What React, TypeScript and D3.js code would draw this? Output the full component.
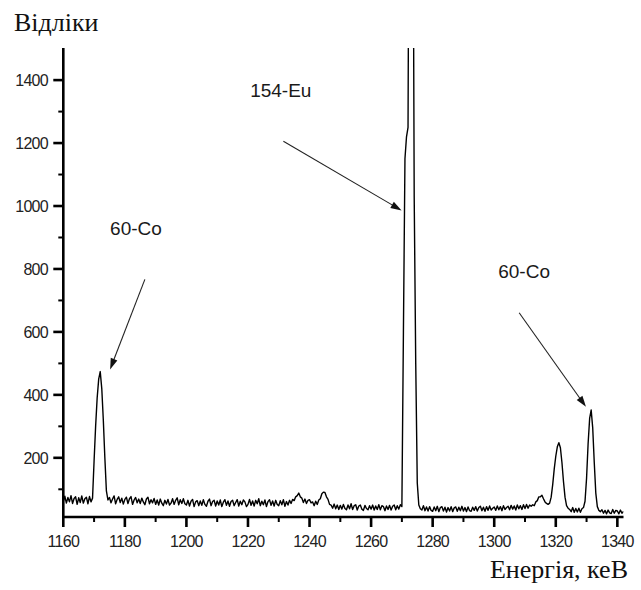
import React from 'react';
import * as d3 from 'd3';

const W = 641;
const H = 590;

// spectrum: counts per 0.5 keV channel, 1160 .. 1342 keV
const channelStart = 1160;
const channelStep = 0.5;
const counts = [
  62, 78, 56, 74, 60, 80, 55, 71, 76, 52,
  73, 58, 79, 56, 70, 75, 54, 77, 60, 72,
  190, 300, 390, 450, 474, 420, 320, 200, 95, 66,
  74, 57, 69, 79, 54, 68, 76, 58, 72, 53,
  68, 75, 55, 70, 77, 52, 66, 74, 57, 69,
  55, 72, 60, 51, 69, 75, 54, 67, 57, 71,
  52, 66, 50, 69, 56, 48, 65, 53, 68, 50,
  56, 70, 52, 65, 73, 51, 67, 55, 70, 54,
  50, 65, 47, 62, 68, 45, 60, 64, 48, 63,
  49, 67, 52, 46, 62, 69, 48, 61, 65, 47,
  63, 50, 66, 45, 59, 67, 49, 63, 46, 61,
  65, 48, 58, 67, 47, 62, 51, 66, 60, 45,
  52, 68, 49, 63, 47, 65, 54, 70, 48, 62,
  51, 66, 45, 61, 67, 49, 63, 47, 65, 52,
  48, 64, 51, 67, 46, 61, 50, 65, 55, 68,
  64, 76, 80, 88, 76, 72, 58, 69, 55, 65,
  67, 57, 60, 48, 62, 52, 66, 70, 86, 91,
  90, 76, 68, 52, 50, 40, 53, 38, 50, 36,
  49, 37, 52, 39, 35, 50, 38, 54, 36, 48,
  51, 34, 47, 50, 37, 33, 49, 39, 35, 48,
  37, 50, 34, 47, 36, 51, 35, 48, 45, 32,
  47, 36, 49, 34, 46, 50, 35, 48, 37, 51,
  45, 600, 1150, 1220, 1250, 2600, 3200, 2400, 1030, 500,
  120, 50, 38, 34, 48, 32, 44, 31, 45, 33,
  30, 44, 32, 46, 29, 42, 45, 31, 43, 28,
  42, 31, 45, 29, 41, 44, 30, 43, 32, 46,
  31, 42, 29, 44, 32, 30, 43, 33, 45, 31,
  42, 46, 32, 43, 30, 45, 33, 47, 34, 40,
  44, 33, 47, 35, 45, 32, 48, 36, 42, 46,
  35, 49, 37, 47, 34, 50, 38, 48, 36, 51,
  39, 52, 40, 50, 46, 51, 48, 60, 64, 76,
  76, 81, 70, 60, 55, 52, 56, 75, 115, 165,
  205, 235, 248, 232, 185, 125, 75, 48, 40, 36,
  29, 42, 27, 39, 28, 40, 27, 38, 42, 62,
  135, 245, 325, 352, 295, 185, 88, 45, 33, 29,
  35, 24, 33, 22, 34, 25, 23, 36, 24, 33,
  31, 22, 34, 24, 30,
];

const xMajorTicks = [1160, 1180, 1200, 1220, 1240, 1260, 1280, 1300, 1320, 1340];
const xMinorTicks = [1170, 1190, 1210, 1230, 1250, 1270, 1290, 1310, 1330];
const yMajorTicks = [200, 400, 600, 800, 1000, 1200, 1400];
const yMinorTicks = [100, 300, 500, 700, 900, 1100, 1300];

// peak labels and arrows, in keV / counts
const annotations = [
  { label: '154-Eu', textE: 1220.7, textC: 1347, fromE: 1231.5, fromC: 1206, toE: 1269.9, toC: 986 },
  { label: '60-Co', textE: 1175.2, textC: 908, fromE: 1186.5, fromC: 767, toE: 1175.2, toC: 481 },
  { label: '60-Co', textE: 1301.3, textC: 772, fromE: 1308.1, fromC: 661, toE: 1329.8, toC: 362 },
];

const x = d3.scaleLinear().domain([1160, 1342]).range([63.3, 623.5]);
const y = d3.scaleLinear().domain([12, 1502]).range([517, 48]);

const tickFont = '"Liberation Sans", Arial, sans-serif';
const titleFont = '"Liberation Serif", "Times New Roman", serif';

const App = () => {
  const points: [number, number][] = counts.map((c, i) => [channelStart + i * channelStep, c]);
  const line = d3.line<[number, number]>()
    .x(d => x(d[0]))
    .y(d => y(d[1]));

  const x0 = x.range()[0];
  const x1 = x.range()[1];
  const yBottom = y.range()[0];
  const yTop = y.range()[1];

  return (
    <svg width={W} height={H} style={{ position: 'absolute', left: 0, top: 0, background: '#fff' }}>
      <defs>
        <clipPath id="plot">
          <rect x={x0} y={yTop} width={x1 - x0} height={yBottom - yTop} />
        </clipPath>
      </defs>

      <text x={14} y={31} fontFamily={titleFont} fontSize={26} fill="#111">Відліки</text>
      <text x={628} y={578} textAnchor="end" fontFamily={titleFont} fontSize={26} fill="#111">Енергія, кеВ</text>

      {/* spectrum */}
      <path d={line(points) || ''} fill="none" stroke="#000" strokeWidth={1.4}
        strokeLinejoin="round" clipPath="url(#plot)" />

      {/* axes */}
      <line x1={x0} x2={x0} y1={yTop} y2={yBottom} stroke="#000" strokeWidth={2.6} />
      <line x1={x0} x2={x1} y1={yBottom} y2={yBottom} stroke="#000" strokeWidth={2.6} />

      {xMajorTicks.map(t => (
        <g key={'xM' + t}>
          <line x1={x(t)} x2={x(t)} y1={yBottom} y2={yBottom + 10} stroke="#000" strokeWidth={2.6} />
          <text x={x(t)} y={547} textAnchor="middle" fontFamily={tickFont} fontSize={16}
            letterSpacing={-0.7} fill="#222">{t}</text>
        </g>
      ))}
      {xMinorTicks.map(t => (
        <line key={'xm' + t} x1={x(t)} x2={x(t)} y1={yBottom} y2={yBottom + 5} stroke="#000" strokeWidth={2} />
      ))}

      {yMajorTicks.map(t => (
        <g key={'yM' + t}>
          <line x1={x0 - 10} x2={x0} y1={y(t)} y2={y(t)} stroke="#000" strokeWidth={2.6} />
          <text x={48} y={y(t)} dy="0.36em" textAnchor="end" fontFamily={tickFont} fontSize={16}
            letterSpacing={-0.7} fill="#222">{t}</text>
        </g>
      ))}
      {yMinorTicks.map(t => (
        <line key={'ym' + t} x1={x0 - 5} x2={x0} y1={y(t)} y2={y(t)} stroke="#000" strokeWidth={2} />
      ))}

      {/* annotations */}
      {annotations.map((a, i) => {
        const sx = x(a.fromE), sy = y(a.fromC);
        const tx = x(a.toE), ty = y(a.toC);
        const len = Math.hypot(tx - sx, ty - sy);
        const ux = (tx - sx) / len, uy = (ty - sy) / len;
        const hl = 11, hw = 3.5;
        const bx = tx - ux * hl, by = ty - uy * hl;
        const head = `M${tx},${ty}L${bx - uy * hw},${by + ux * hw}L${bx + uy * hw},${by - ux * hw}Z`;
        return (
          <g key={'a' + i}>
            <text x={x(a.textE)} y={y(a.textC)} fontFamily={tickFont} fontSize={19} fill="#1a1a1a">{a.label}</text>
            <line x1={sx} y1={sy} x2={bx + ux * 2} y2={by + uy * 2} stroke="#222" strokeWidth={1.1} />
            <path d={head} fill="#111" />
          </g>
        );
      })}
    </svg>
  );
};

export default App;
